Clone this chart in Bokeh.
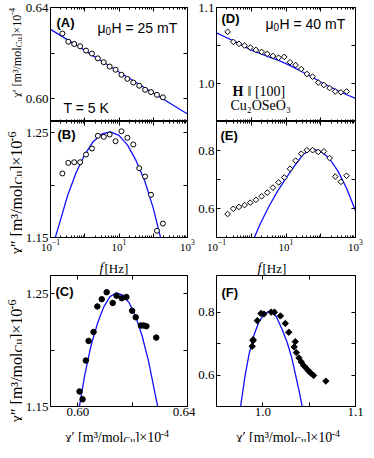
import math
from bokeh.plotting import figure
from bokeh.models import FixedTicker, LinearAxis, LogAxis, Label, Range1d
from bokeh.layouts import column, row
from bokeh.embed import file_html
from bokeh.resources import INLINE

SERIF = "Liberation Serif"
SANS = "Liberation Sans"
BLUE = "#1010ff"

# ---------------- data: T = 5 K, mu0H = 25 mT (panels A, B, C) ----------------
freq_25 = [0.222, 0.331, 0.492, 0.733, 1.09, 1.62, 2.41, 3.59, 5.33, 7.94,
           11.8, 17.6, 26.1, 38.9, 57.8, 86.1, 128, 191]
chi_p_25 = [0.6286, 0.6250, 0.6240, 0.6230, 0.6211, 0.6198, 0.6177, 0.6160, 0.6141,
            0.6127, 0.6105, 0.6087, 0.6071, 0.6057, 0.6039, 0.6029, 0.6017, 0.6006]
chi_pp_25 = [1.2110, 1.2211, 1.2217, 1.2217, 1.2290, 1.2348, 1.2469, 1.2459, 1.2481,
             1.2417, 1.2512, 1.2450, 1.2386, 1.2160, 1.2081, 1.1907, 1.1564, 1.1633]
fit_f_25 = [0.1, 0.178, 0.316, 0.562, 1.0, 1.78, 3.16, 5.62, 10, 17.8, 31.6, 56.2,
            100, 178, 316, 562, 1000]
fit_chi_p_25 = [0.6304, 0.6281, 0.6258, 0.6235, 0.6212, 0.6188, 0.6164, 0.6141, 0.6117,
                0.6094, 0.6071, 0.6048, 0.6025, 0.6002, 0.5979, 0.5956, 0.5933]
fit_chi_pp_25 = [1.135, 1.162, 1.190, 1.212, 1.229, 1.2415, 1.2486, 1.2507, 1.2473,
                 1.238, 1.2232, 1.204, 1.178, 1.145, 1.10, 1.04, 0.97]

# ---------------- data: mu0H = 40 mT (panels D, E, F) ----------------
freq_40 = [0.209, 0.304, 0.443, 0.644, 0.938, 1.365, 1.99, 2.89, 4.21, 6.12, 8.91,
           13.0, 18.9, 27.5, 40.0, 58.2, 84.7, 123, 179.5, 261, 380, 553]
chi_p_40 = [1.068, 1.0548, 1.0522, 1.050, 1.0474, 1.0442, 1.0416, 1.039, 1.0362, 1.0339,
            1.035, 1.028, 1.0243, 1.019, 1.0125, 1.009, 1.0012, 0.998, 0.994, 0.9895,
            0.9885, 0.9895]
chi_pp_40 = [0.581, 0.599, 0.6054, 0.6117, 0.620, 0.630, 0.642, 0.655, 0.672, 0.690,
             0.707, 0.737, 0.765, 0.789, 0.801, 0.801, 0.795, 0.797, 0.774, 0.710,
             0.692, 0.713]
fit_f_40 = [0.1, 0.178, 0.316, 0.562, 1.0, 1.78, 3.16, 5.62, 10, 17.8, 31.6, 56.2,
            100, 178, 316, 562, 1000, 1778, 3162]
fit_chi_p_40 = [1.0667, 1.0612, 1.0557, 1.0500, 1.0440, 1.0395, 1.0350, 1.0310, 1.0262,
                1.0205, 1.0145, 1.0085, 1.0020, 0.9960, 0.9905, 0.9852, 0.9805, 0.9760,
                0.9715]
fit_chi_pp_40 = [0.10, 0.19, 0.28, 0.38, 0.475, 0.545, 0.605, 0.658, 0.705, 0.748, 0.787,
                 0.806, 0.797, 0.772, 0.728, 0.668, 0.592, 0.50, 0.40]

# ---------------- ticks ----------------
log_major = [0.1, 1, 10, 100, 1000]
log_minor = [d * k for d in (0.1, 1, 10, 100) for k in range(2, 10)]
log_labels = {1: "", 100: ""}

yA_ticks, yA_labels = [0.60, 0.62, 0.64], {0.60: "0.60", 0.62: "", 0.64: "0.64"}
yB_ticks, yB_labels = [1.15, 1.20, 1.25], {1.15: "1.15", 1.20: "", 1.25: "1.25"}
yD_ticks, yD_labels = [1.0, 1.05, 1.1], {1.0: "1.0", 1.05: "", 1.1: "1.1"}
yE_ticks, yE_labels = [0.6, 0.7, 0.8], {0.6: "0.6", 0.7: "", 0.8: "0.8"}
xC_ticks, xC_labels = [0.60, 0.62, 0.64], {0.60: "0.60", 0.62: "", 0.64: "0.64"}
xF_ticks, xF_labels = [1.0, 1.05, 1.1], {1.0: "1.0", 1.05: "", 1.1: "1.1"}


def style_axis(ax, ticks, minor=None, labels=None, show=True, standoff=3, fs=13):
    ax.ticker = FixedTicker(ticks=ticks, minor_ticks=minor or [])
    ax.major_tick_in = 4
    ax.major_tick_out = 0
    ax.minor_tick_in = 2
    ax.minor_tick_out = 0
    ax.axis_line_color = "black"
    ax.major_tick_line_color = "black"
    ax.minor_tick_line_color = "black"
    ax.major_label_text_font = SERIF
    ax.major_label_text_font_size = f"{fs}px"
    ax.major_label_text_color = "black"
    ax.major_label_standoff = standoff
    if show:
        if labels:
            ax.major_label_overrides = labels
    else:
        ax.major_label_overrides = {t: "" for t in ticks}
        ax.major_label_text_font_size = "0px"
        ax.major_label_standoff = 0


def make_fig(xr, yr, xlog, fw, fh, bl, br, bt, bb, xt, yt, xminor, xlab, ylab,
             show_x):
    p = figure(x_axis_type="log" if xlog else "linear",
               x_range=Range1d(*xr), y_range=Range1d(*yr),
               frame_width=fw, frame_height=fh,
               min_border_left=bl, min_border_right=br,
               min_border_top=bt, min_border_bottom=bb,
               toolbar_location=None, output_backend="svg")
    p.grid.visible = False
    p.outline_line_color = "black"
    p.outline_line_width = 1
    p.background_fill_color = "white"
    p.border_fill_color = "white"
    style_axis(p.yaxis[0], yt, labels=ylab, standoff=2)
    style_axis(p.xaxis[0], xt, minor=xminor, labels=xlab, show=show_x,
               standoff=2 if xlog else 1, fs=11 if xlog else 13)
    top = LogAxis() if xlog else LinearAxis()
    style_axis(top, xt, minor=xminor, show=False)
    p.add_layout(top, "above")
    right = LinearAxis()
    style_axis(right, yt, show=False)
    p.add_layout(right, "right")
    return p


def txt(p, geom, px, py, text, font=SANS, size=13, style="normal", align="left",
        baseline="alphabetic"):
    # text inside a panel's frame, placed by page pixel position
    FL, FB = geom
    p.add_layout(Label(x=px - FL, y=FB - py, x_units="screen", y_units="screen",
                       text=text, text_font=font, text_font_size=f"{size}px",
                       text_font_style=style, text_align=align,
                       text_baseline=baseline, text_color="black"))


def strip(x0, x1, y0, y1):
    # blank figure whose frame spans a page region; its ranges are page pixels
    s = figure(x_range=Range1d(x0, x1), y_range=Range1d(-y1, -y0),
               frame_width=x1 - x0, frame_height=y1 - y0,
               min_border_left=0, min_border_right=0, min_border_top=0,
               min_border_bottom=0, x_axis_location=None, y_axis_location=None,
               toolbar_location=None, output_backend="svg")
    s.grid.visible = False
    s.outline_line_color = None
    s.background_fill_color = "white"
    s.border_fill_color = "white"
    return s


def stext(s, px, py, text, size, style="normal", align="left", angle=0.0):
    s.add_layout(Label(x=px, y=-py, x_units="data", y_units="data", text=text,
                       angle=angle, text_align=align, text_baseline="alphabetic",
                       text_font=SERIF, text_font_size=f"{size}px",
                       text_font_style=style, text_color="black"))


def ylabel_rot(s, bx, y0, main, exp, size):
    # reads bottom-to-top; y0 = page y where "mol" ends
    sub = round(size * 0.72)
    w_cu = 1.12 * sub
    w_mid = 1.85 * size
    a = math.pi / 2
    stext(s, bx, y0, main, size, align="right", angle=a)
    stext(s, bx + 2.5, y0, "Cu", sub, angle=a)
    stext(s, bx, y0 - w_cu, "]\u00d710", size, angle=a)
    stext(s, bx - 5, y0 - w_cu - w_mid, exp, sub, angle=a)


def xlabel_chi(s, x0, by, size=14):
    sub = round(size * 0.72)
    w_cu = 1.12 * sub
    w_mid = 1.85 * size
    stext(s, x0, by, "\u03c7\u2032 [m\u00b3/mol", size, align="right")
    stext(s, x0, by + 2.5, "Cu", sub)
    stext(s, x0 + w_cu, by, "]\u00d710", size)
    stext(s, x0 + w_cu + w_mid, by - 4.5, "-4", sub)


LW = 1.3
BB = 17   # bottom border of B/E (tick labels)
BC = 16   # bottom border of C/F (tick labels)
FH_TOP = 245 + BB
CH_TOP = 414 + BC

# ---------- panel A ----------
gA = (55, 129)
pA = make_fig((0.1, 1000), (0.59, 0.64), True, 137, 114, 25, 8, 7, 0,
              log_major, yA_ticks, log_minor, None, yA_labels, False)
pA.line(fit_f_25, fit_chi_p_25, line_color=BLUE, line_width=LW)
pA.scatter(freq_25, chi_p_25, marker="circle", size=5, fill_color="white",
           line_color="black", line_width=1)
txt(pA, gA, 61, 30, "(A)", size=13, style="bold", baseline="middle")
txt(pA, gA, 110, 35, "\u03bc", size=14, align="right")
txt(pA, gA, 110, 38, "0", size=10)
txt(pA, gA, 116, 35, "H = 25 mT", size=14)
txt(pA, gA, 68, 115, "T = 5 K", size=14)

# ---------- panel D ----------
gD = (218, 129)
pD = make_fig((0.1, 1000), (0.95, 1.1), True, 139, 114, 18, 9, 7, 0,
              log_major, yD_ticks, log_minor, None, yD_labels, False)
pD.line(fit_f_40, fit_chi_p_40, line_color=BLUE, line_width=LW)
pD.scatter(freq_40, chi_p_40, marker="square", angle=math.pi / 4, size=4,
           fill_color="white", line_color="black", line_width=1)
txt(pD, gD, 223, 26, "(D)", size=13, style="bold", baseline="middle")
txt(pD, gD, 275, 31, "\u03bc", size=14, align="right")
txt(pD, gD, 275, 34, "0", size=10)
txt(pD, gD, 281, 31, "H = 40 mT", size=14)
txt(pD, gD, 234, 99, "H", font=SERIF, size=14, style="bold")
txt(pD, gD, 249, 99, "\u2016 [100]", font=SERIF, size=14)
txt(pD, gD, 232, 113, "Cu\u2082OSeO\u2083", font=SERIF, size=14)

# ---------- panel B ----------
gB = (55, 245)
pB = make_fig((0.1, 1000), (1.15, 1.2605), True, 137, 116, 25, 8, 0, BB,
              log_major, yB_ticks, log_minor, log_labels, yB_labels, True)
pB.line(fit_f_25, fit_chi_pp_25, line_color=BLUE, line_width=LW)
pB.scatter(freq_25, chi_pp_25, marker="circle", size=5, fill_color="white",
           line_color="black", line_width=1)
txt(pB, gB, 62, 142, "(B)", size=13, style="bold", baseline="middle")

# ---------- panel E ----------
gE = (218, 245)
pE = make_fig((0.1, 1000), (0.5, 0.9), True, 139, 116, 18, 9, 0, BB,
              log_major, yE_ticks, log_minor, log_labels, yE_labels, True)
pE.line(fit_f_40, fit_chi_pp_40, line_color=BLUE, line_width=LW)
pE.scatter(freq_40, chi_pp_40, marker="square", angle=math.pi / 4, size=4,
           fill_color="white", line_color="black", line_width=1)
txt(pE, gE, 222, 143, "(E)", size=13, style="bold", baseline="middle")

# ---------- panel C ----------
gC = (55, 414)
pC = make_fig((0.59, 0.64), (1.15, 1.266), False, 137, 131, 25, 8, 0, BC,
              xC_ticks, yB_ticks, None, xC_labels, yB_labels, True)
pC.line(fit_chi_p_25, fit_chi_pp_25, line_color=BLUE, line_width=LW)
pC.scatter(chi_p_25, chi_pp_25, marker="circle", size=5.5, fill_color="black",
           line_color="black")
txt(pC, gC, 60, 299, "(C)", size=13, style="bold", baseline="middle")

# ---------- panel F ----------
gF = (218, 414)
pF = make_fig((0.95, 1.1), (0.5, 0.918), False, 139, 131, 18, 9, 0, BC,
              xF_ticks, yE_ticks, None, xF_labels, yE_labels, True)
pF.line(fit_chi_p_40, fit_chi_pp_40, line_color=BLUE, line_width=LW)
pF.scatter(chi_p_40, chi_pp_40, marker="square", angle=math.pi / 4, size=4.5,
           fill_color="black", line_color="black")
txt(pF, gF, 223, 300, "(F)", size=13, style="bold", baseline="middle")

# ---------- axis-title strips (outside the panel frames) ----------
sLeft = strip(8, 30, 8, 450)
ylabel_rot(sLeft, 24, 55, "\u03c7\u2032 [m\u00b3/mol", "-4", 12)
ylabel_rot(sLeft, 24, 192, "\u03c7\u2033 [m\u00b3/mol", "-6", 16)
ylabel_rot(sLeft, 24, 360, "\u03c7\u2033 [m\u00b3/mol", "-6", 16)

sHz = strip(30, 366, FH_TOP, 283)
stext(sHz, 111, 276, "f", 14, style="italic", align="right")
stext(sHz, 112, 276, "[Hz]", 13)
stext(sHz, 269, 276, "f", 14, style="italic", align="right")
stext(sHz, 270, 276, "[Hz]", 13)

sChi = strip(30, 366, CH_TOP, 450)
xlabel_chi(sChi, 131, 445, 14)
xlabel_chi(sChi, 302, 445, 14)

main = column(row(pA, pD), row(pB, pE), sHz, row(pC, pF), sChi)
layout = row(sLeft, main)
open("out.html", "w").write(file_html(layout, INLINE))
